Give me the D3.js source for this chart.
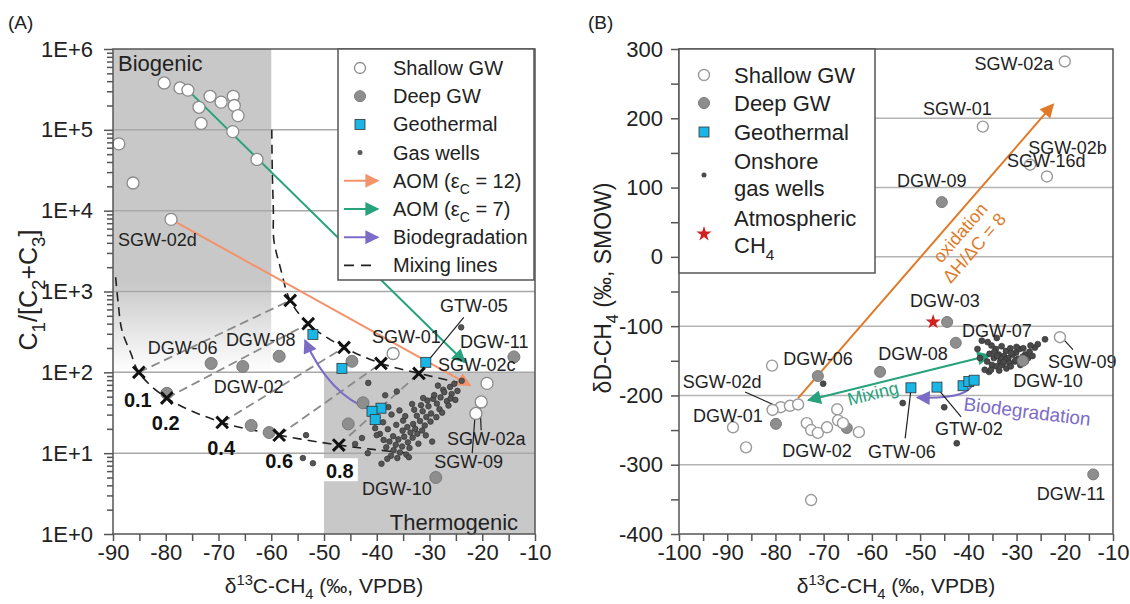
<!DOCTYPE html>
<html>
<head>
<meta charset="utf-8">
<script src="https://d3js.org/d3.v7.min.js"></script>
<style>
  body { margin: 0; background: #fff; }
  svg { font-family: "Liberation Sans", Arial, sans-serif; }
  .tick line { stroke: #555; stroke-width: 1.5px; }
  .domain { display: none; }
  .lbl { font-size: 18px; fill: #222; }
</style>
</head>
<body>
<svg id="fig" width="1130" height="604"></svg>
<script>
// ---------- panel A data : [d13C, C1/(C2+C3)] ----------
var shallowA = [[-80.3,3.8e5],[-77.3,3.3e5],[-75.8,3.1e5],[-71.6,2.6e5],[-69.5,2.2e5],[-67.2,2.6e5],[-67.0,2.0e5],
  [-66.3,1.5e5],[-73.7,1.9e5],[-73.3,1.2e5],[-67.3,9.5e4],[-62.7,4.3e4],[-88.9,6.7e4],[-86.2,2.2e4],[-79.0,7.8e3],
  [-36.9,171],[-19.1,73],[-20.2,43],[-21.2,31]];
var deepA = [[-71.4,129],[-65.4,118],[-58.5,158],[-79.8,55],[-63.8,22],[-60.4,18],[-44.7,137],[-45.4,23],
  [-42.6,42],[-14.0,155],[-28.8,5.0]];
var geoA = [[-52.1,295],[-46.6,112],[-30.7,133],[-39.2,36],[-40.9,33],[-40.3,26]];
var gasA = [[-24.0,360],[-25.3,72],[-26.1,66],[-27.4,61],[-25.8,54],[-27.9,49],[-26.7,44],[-28.6,41],[-29.3,47],
  [-30.2,38],[-28.1,35],[-29.7,31],[-31.3,33],[-30.6,28],[-32.4,29],[-31.8,25],[-33.1,23],[-30.9,22],[-32.7,20],
  [-34.2,21],[-33.6,18],[-35.1,19],[-34.8,16],[-33.2,15.5],[-35.9,14.8],[-34.1,13.6],[-36.4,12.7],[-35.2,12.1],
  [-33.8,11.6],[-36.8,10.9],[-35.6,10.2],[-34.4,9.6],[-37.3,9.3],[-36.1,8.7],[-33.9,8.9],[-38.2,11.8],[-37.6,13.9],
  [-36.9,16.2],[-38.7,14.6],[-39.4,17.3],[-37.9,19.8],[-36.3,22.4],[-35.0,25.3],[-38.8,24.1],[-40.3,20.4],
  [-39.9,27.6],[-37.2,30.1],[-34.6,28.7],[-32.9,34.5],[-31.6,39.2],[-30.4,44.8],[-29.1,52.3],[-27.2,56.8],
  [-26.0,47.5],[-24.7,58.9],[-23.9,78.6],[-28.4,68.5],[-31.2,48.1],[-33.3,40.6],[-35.7,33.8],[-37.8,37.2],
  [-41.6,74],[-38.4,52],[-36.2,58],[-32.3,17.4],[-31.4,19.1],[-29.8,24.6],[-28.7,27.9],[-27.6,31.7],[-26.4,38.8],
  [-25.1,45.6],[-30.7,16.6],[-32.1,13.1],[-29.5,13.9],[-53.4,16.7],[-54.0,8.7],[-52.1,7.5],[-44.1,13],[-41.7,10],
  [-40.0,16.7],[-38.0,8.5],[-42.8,15.4],[-39.1,7.4]];
var lowerX = [[-85.1,100],[-79.8,48],[-69.3,24],[-58.5,16.7],[-47.2,12.6]];
var upperX = [[-56.4,775],[-53.0,400],[-46.2,203],[-39.2,129],[-32.0,97]];
var fractions = ["0.1","0.2","0.4","0.6","0.8"];
var upperCurve = [[-59.9,1e5],[-59.8,3e4],[-59.6,1e4],[-59.5,4300],[-58.3,2000],[-56.4,775],[-53.0,400],
  [-46.2,203],[-39.2,129],[-32.0,97],[-24.5,75]];
var lowerCurve = [[-89.5,1500],[-89.0,700],[-88.3,330],[-86.6,171],[-85.1,100],[-79.8,48],[-69.3,24],
  [-58.5,16.7],[-47.2,12.6],[-40.0,11],[-34.0,10]];
var aom12A = [[-79.0,7.8e3],[-22.3,69]];
var aom7A = [[-75.8,3.1e5],[-23.3,133]];
var bioA = [[-41.0,34],[-49.0,52],[-53.6,250]];   // start, bend, tip

// ---------- panel B data : [d13C, dD] ----------
var shallowB = [[-20.0,282],[-37.0,188],[-27.2,133],[-23.7,116],[-21.0,-116],[-80.7,-157],[-78.9,-217],
  [-80.6,-221],[-77.0,-215],[-75.3,-213],[-88.8,-246],[-86.1,-275],[-73.5,-240],[-72.6,-250],[-71.2,-254],
  [-69.3,-246],[-67.2,-220],[-67.0,-236],[-66.0,-240],[-62.7,-253],[-72.6,-351]];
var deepB = [[-45.5,79],[-44.4,-94],[-42.6,-124],[-58.3,-166],[-28.7,-150],[-71.2,-172],[-79.9,-241],
  [-65.2,-247],[-14.1,-314]];
var geoB = [[-51.9,-189],[-46.5,-188],[-41.1,-186],[-39.9,-180],[-38.8,-178]];
var atmB = [[-47.3,-94]];
var gasB = [[-34.1,-117],[-24.1,-119],[-53.6,-211],[-45.0,-217],[-42.4,-269],[-70.1,-183],[-35.7,-166],
  [-35.2,-128],[-34.3,-133],[-33.1,-129],[-32.2,-136],[-31.3,-132],[-30.1,-138],[-29.4,-133],[-28.2,-141],
  [-27.3,-137],[-26.2,-131],[-25.6,-126],[-33.7,-141],[-32.6,-143],[-31.7,-146],[-30.8,-141],[-29.6,-147],
  [-28.7,-144],[-34.7,-146],[-33.4,-151],[-32.4,-148],[-31.5,-153],[-30.3,-151],[-29.2,-156],[-35.1,-156],
  [-34.2,-158],[-33.0,-156],[-32.1,-161],[-31.2,-158],[-36.1,-151],[-35.6,-140],[-34.6,-137],[-33.2,-146],
  [-31.1,-139],[-30.2,-149],[-28.1,-151],[-27.6,-146],[-26.7,-143],[-36.6,-163],[-35.3,-163],[-33.6,-164],
  [-32.7,-152],[-34.0,-143],[-30.0,-130],[-28.6,-132],[-27.1,-128],[-37.2,-121],[-36.0,-123],[-38.1,-133],
  [-37.6,-146]];
var oxB = [[-75.3,-204],[-22.4,220]];
var mixB = [[-73.2,-207],[-35.5,-142]];
var bioB = [[-39.0,-182],[-40.0,-206],[-50.6,-203]];

// labels [text, x, y, anchor]
var labelsA = [["SGW-02d",-89.05,3700,"start"],["DGW-06",-83.4,167,"start"],["DGW-08",-68.6,209,"start"],
  ["DGW-02",-70.9,56,"start"],["SGW-01",-40.9,229,"start"],["GTW-05",-28.0,550,"start"],["DGW-11",-24.2,199,"start"],
  ["SGW-02c",-28.4,103,"start"],["SGW-02a",-26.7,12.6,"start"],["SGW-09",-29.1,6.5,"start"],["DGW-10",-42.8,3.0,"start"]];
var leadersA = [[[-23.5,478],[-29.9,149]],[[-20.2,19.2],[-20.4,36]],[[-21.9,10],[-21.4,27]]];
var fracPos = [[-85.3,37],[-80.0,19.2],[-69.5,9.4],[-58.5,6.5],[-47.0,4.9]];
var labelsB = [["SGW-02a",-22.4,270,"end"],["SGW-01",-49.4,205,"start"],["SGW-02b",-27.6,149,"start"],
  ["SGW-16d",-32.0,129,"start"],["DGW-09",-54.8,101,"start"],["DGW-03",-52.1,-72,"start"],["DGW-07",-41.3,-116,"start"],
  ["DGW-08",-58.7,-149,"start"],["SGW-09",-23.5,-160,"start"],["DGW-10",-30.7,-188,"start"],["GTW-02",-46.9,-257,"start"],
  ["GTW-06",-60.8,-290,"start"],["DGW-11",-25.8,-351,"start"],["DGW-06",-78.4,-156,"start"],["SGW-02d",-99.2,-189,"start"],
  ["DGW-01",-97.1,-238,"start"],["DGW-02",-78.6,-289,"start"]];
var leadersB = [[[-18.3,-134],[-20.4,-118]],[[-41.5,-231],[-46.5,-189]],[[-53.1,-262],[-51.9,-192]],[[-86.3,-195],[-79.9,-215]]];

var orangeA = "#f4926a", green = "#26a27c", purple = "#7c6cc6", orangeB = "#e07a28";
var svg = d3.select("#fig");
var defs = svg.append("defs");

function marker(id, color, w, h) {
  defs.append("marker").attr("id", id).attr("viewBox", "0 0 10 10")
    .attr("refX", 9).attr("refY", 5).attr("markerUnits", "userSpaceOnUse")
    .attr("markerWidth", w).attr("markerHeight", h).attr("orient", "auto-start-reverse")
    .append("path").attr("d", "M0,0L10,5L0,10z").attr("fill", color);
}
marker("mOA", orangeA, 16, 14); marker("mG", green, 16, 14); marker("mP", purple, 16, 14); marker("mOB", orangeB, 16, 14);

var grad = defs.append("linearGradient").attr("id", "bio").attr("x1", 0).attr("y1", 0).attr("x2", 0).attr("y2", 1);
grad.append("stop").attr("offset", "0").attr("stop-color", "#c8c8c8");
grad.append("stop").attr("offset", "0.72").attr("stop-color", "#c8c8c8");
grad.append("stop").attr("offset", "1").attr("stop-color", "#ffffff");

function rich(t, parts, fs, scale) {
  var off = 0, k = scale || 0.7;
  parts.forEach(function(p) {
    var s = t.append("tspan").text(p[0]);
    var want = p[1] === "sub" ? fs * 0.3 : p[1] === "sup" ? -fs * 0.4 : 0;
    if (p[1]) s.attr("font-size", fs * k);
    s.attr("dy", want - off);
    off = want;
  });
}
function styleAxis(g) {
  g.attr("font-family", null).attr("font-size", null);
  g.selectAll(".tick text").style("font-size", "22px").attr("fill", "#222");
}

var xA = d3.scaleLinear().domain([-90, -10]).range([113, 535]);
var yA = d3.scaleLog().domain([1, 1e6]).range([534, 49]);
var xB = d3.scaleLinear().domain([-100, -10]).range([679, 1113]);
var yB = d3.scaleLinear().domain([-400, 300]).range([534, 49]);

// ================= PANEL A =================
var gA = svg.append("g");
gA.append("rect").attr("x", xA(-90)).attr("y", yA(1e6)).attr("width", xA(-60) - xA(-90))
  .attr("height", yA(100) - yA(1e6)).attr("fill", "url(#bio)");
gA.append("rect").attr("x", xA(-50)).attr("y", yA(100)).attr("width", xA(-10) - xA(-50))
  .attr("height", yA(1) - yA(100)).attr("fill", "#c8c8c8");
gA.selectAll(".grid").data([10, 100, 1000, 1e4, 1e5]).enter().append("line")
  .attr("x1", xA(-90)).attr("x2", xA(-10)).attr("y1", d => yA(d)).attr("y2", d => yA(d))
  .attr("stroke", "#a8a8a8").attr("stroke-width", 1.5);

// mixing lines
gA.selectAll(".mixl").data(lowerX).enter().append("line")
  .attr("x1", d => xA(d[0])).attr("y1", d => yA(d[1]))
  .attr("x2", (d, i) => xA(upperX[i][0])).attr("y2", (d, i) => yA(upperX[i][1]))
  .attr("stroke", "#8a8a8a").attr("stroke-width", 1.8).attr("stroke-dasharray", "9,5");
var lineA = d3.line().x(d => xA(d[0])).y(d => yA(d[1])).curve(d3.curveCatmullRom);
[upperCurve, lowerCurve].forEach(function(c) {
  gA.append("path").attr("d", lineA(c)).attr("fill", "none").attr("stroke", "#222")
    .attr("stroke-width", 1.6).attr("stroke-dasharray", "9,6");
});

// arrows
gA.append("line").attr("x1", xA(aom12A[0][0])).attr("y1", yA(aom12A[0][1])).attr("x2", xA(aom12A[1][0])).attr("y2", yA(aom12A[1][1]))
  .attr("stroke", orangeA).attr("stroke-width", 2).attr("marker-end", "url(#mOA)");
gA.append("line").attr("x1", xA(aom7A[0][0])).attr("y1", yA(aom7A[0][1])).attr("x2", xA(aom7A[1][0])).attr("y2", yA(aom7A[1][1]))
  .attr("stroke", green).attr("stroke-width", 2).attr("marker-end", "url(#mG)");
var pA = d3.path();
pA.moveTo(xA(bioA[0][0]), yA(bioA[0][1]));
pA.quadraticCurveTo(xA(bioA[1][0]), yA(bioA[1][1]), xA(bioA[2][0]), yA(bioA[2][1]));
gA.append("path").attr("d", pA.toString()).attr("fill", "none").attr("stroke", purple)
  .attr("stroke-width", 2.2).attr("marker-end", "url(#mP)");

// leaders
gA.selectAll(".ldA").data(leadersA).enter().append("line")
  .attr("x1", d => xA(d[0][0])).attr("y1", d => yA(d[0][1])).attr("x2", d => xA(d[1][0])).attr("y2", d => yA(d[1][1]))
  .attr("stroke", "#222").attr("stroke-width", 1.2);

// points
gA.selectAll(".gasA").data(gasA).enter().append("circle")
  .attr("cx", d => xA(d[0])).attr("cy", d => yA(d[1])).attr("r", 2.8)
  .attr("fill", "#555").attr("stroke", "#333").attr("stroke-width", 0.7);
gA.selectAll(".deepA").data(deepA).enter().append("circle")
  .attr("cx", d => xA(d[0])).attr("cy", d => yA(d[1])).attr("r", 6)
  .attr("fill", "#8e8e8e").attr("stroke", "#7a7a7a").attr("stroke-width", 1);
gA.selectAll(".shA").data(shallowA).enter().append("circle")
  .attr("cx", d => xA(d[0])).attr("cy", d => yA(d[1])).attr("r", 6)
  .attr("fill", "#fff").attr("stroke", "#8a8a8a").attr("stroke-width", 1.3);
gA.selectAll(".geoA").data(geoA).enter().append("rect")
  .attr("x", d => xA(d[0]) - 5).attr("y", d => yA(d[1]) - 5).attr("width", 10).attr("height", 10)
  .attr("fill", "#1ab6e6").attr("stroke", "#333").attr("stroke-width", 0.8);
var times = d3.symbol().type(d3.symbolTimes).size(90);
gA.selectAll(".xm").data(lowerX.concat(upperX)).enter().append("path")
  .attr("d", times).attr("transform", d => "translate(" + xA(d[0]) + "," + yA(d[1]) + ")")
  .attr("stroke", "#111").attr("stroke-width", 3).attr("fill", "none");

// fraction labels
fracPos.forEach(function(p, i) {
  if (i === 4) {
    gA.append("rect").attr("x", xA(p[0]) - 18).attr("y", yA(p[1]) - 20).attr("width", 36).attr("height", 23).attr("fill", "#fff");
  }
  gA.append("text").attr("x", xA(p[0])).attr("y", yA(p[1])).attr("text-anchor", "middle")
    .attr("font-size", 20).attr("font-weight", "bold").attr("fill", "#111").text(fractions[i]);
});

gA.selectAll(".lblA").data(labelsA).enter().append("text").attr("class", "lbl")
  .attr("x", d => xA(d[1])).attr("y", d => yA(d[2])).attr("text-anchor", d => d[3]).text(d => d[0]);
gA.append("text").attr("x", xA(-89.05)).attr("y", yA(5.4e5)).attr("font-size", 22).attr("fill", "#222").text("Biogenic");
gA.append("text").attr("x", xA(-13.2)).attr("y", yA(1.12)).attr("text-anchor", "end").attr("font-size", 22).attr("fill", "#222").text("Thermogenic");

// frame + axes
gA.append("rect").attr("x", 113).attr("y", 49).attr("width", 422).attr("height", 485)
  .attr("fill", "none").attr("stroke", "#555").attr("stroke-width", 1.5);
gA.append("g").attr("transform", "translate(0,534)")
  .call(d3.axisBottom(xA).tickValues(d3.range(-90, -9, 5)).tickSize(7).tickPadding(3)
    .tickFormat(d => d % 10 === 0 ? d : "")).call(styleAxis);
var yTicksA = [];
for (var e = 0; e < 6; e++) for (var m = 1; m < 10; m++) yTicksA.push(m * Math.pow(10, e));
yTicksA.push(1e6);
var axYA = gA.append("g").attr("transform", "translate(113,0)")
  .call(d3.axisLeft(yA).tickValues(yTicksA).tickSize(9).tickPadding(11)
    .tickFormat(d => { var l = Math.log10(d); return Math.abs(l - Math.round(l)) < 1e-9 ? "1E+" + Math.round(l) : ""; }))
  .call(styleAxis);
axYA.selectAll(".tick line").filter(d => Math.abs(Math.log10(d) - Math.round(Math.log10(d))) > 1e-9).attr("x2", -6);

rich(gA.append("text").attr("x", 324).attr("y", 593).attr("text-anchor", "middle").attr("font-size", 21).attr("fill", "#222"),
  [["δ"], ["13", "sup"], ["C-CH"], ["4", "sub"], ["  (‰, VPDB)"]], 21);
rich(gA.append("text").attr("transform", "translate(37,290) rotate(-90)").attr("text-anchor", "middle").attr("font-size", 25).attr("fill", "#222"),
  [["C"], ["1", "sub"], ["/[C"], ["2", "sub"], ["+C"], ["3", "sub"], ["]"]], 25, 0.75);
svg.append("text").attr("x", 8).attr("y", 29).attr("font-size", 19).attr("fill", "#222").text("(A)");

// legend A
var lgA = gA.append("g");
lgA.append("rect").attr("x", 338).attr("y", 49).attr("width", 196).attr("height", 231)
  .attr("fill", "#fff").attr("stroke", "#555").attr("stroke-width", 1.5);
var legItemsA = ["shallow", "deep", "geo", "gas", "aom12", "aom7", "bio", "mix"];
legItemsA.forEach(function(k, i) {
  var y = 68 + i * 28.2, sx = 360;
  if (k === "shallow") lgA.append("circle").attr("cx", sx).attr("cy", y).attr("r", 5.5).attr("fill", "#fff").attr("stroke", "#8a8a8a").attr("stroke-width", 1.3);
  if (k === "deep") lgA.append("circle").attr("cx", sx).attr("cy", y).attr("r", 5.5).attr("fill", "#8e8e8e").attr("stroke", "#7a7a7a");
  if (k === "geo") lgA.append("rect").attr("x", sx - 5).attr("y", y - 5).attr("width", 10).attr("height", 10).attr("fill", "#1ab6e6").attr("stroke", "#333").attr("stroke-width", 0.8);
  if (k === "gas") lgA.append("circle").attr("cx", sx).attr("cy", y).attr("r", 2.5).attr("fill", "#5a5a5a");
  var arr = { aom12: ["mOA", orangeA], aom7: ["mG", green], bio: ["mP", purple] }[k];
  if (arr) lgA.append("line").attr("x1", 344).attr("x2", 378).attr("y1", y).attr("y2", y)
    .attr("stroke", arr[1]).attr("stroke-width", 2).attr("marker-end", "url(#" + arr[0] + ")");
  if (k === "mix") lgA.append("line").attr("x1", 344).attr("x2", 378).attr("y1", y).attr("y2", y)
    .attr("stroke", "#222").attr("stroke-width", 1.6).attr("stroke-dasharray", "10,7");
  var t = lgA.append("text").attr("x", 393).attr("y", y + 7).attr("font-size", 20).attr("fill", "#222");
  var txt = { shallow: [["Shallow GW"]], deep: [["Deep GW"]], geo: [["Geothermal"]], gas: [["Gas wells"]],
    aom12: [["AOM (ε"], ["C", "sub"], [" = 12)"]], aom7: [["AOM (ε"], ["C", "sub"], [" = 7)"]],
    bio: [["Biodegradation"]], mix: [["Mixing lines"]] }[k];
  rich(t, txt, 20);
});

// ================= PANEL B =================
var gB = svg.append("g");
gB.selectAll(".gridB").data([-300, -200, -100, 0, 100, 200]).enter().append("line")
  .attr("x1", xB(-100)).attr("x2", xB(-10)).attr("y1", d => yB(d)).attr("y2", d => yB(d))
  .attr("stroke", "#b4b4b4").attr("stroke-width", 1.5);

gB.append("line").attr("x1", xB(oxB[0][0])).attr("y1", yB(oxB[0][1])).attr("x2", xB(oxB[1][0])).attr("y2", yB(oxB[1][1]))
  .attr("stroke", orangeB).attr("stroke-width", 2).attr("marker-end", "url(#mOB)");
gB.append("line").attr("x1", xB(mixB[0][0])).attr("y1", yB(mixB[0][1])).attr("x2", xB(mixB[1][0])).attr("y2", yB(mixB[1][1]))
  .attr("stroke", green).attr("stroke-width", 2).attr("marker-start", "url(#mG)").attr("marker-end", "url(#mG)");
var pB = d3.path();
pB.moveTo(xB(bioB[0][0]), yB(bioB[0][1]));
pB.quadraticCurveTo(xB(bioB[1][0]), yB(bioB[1][1]), xB(bioB[2][0]), yB(bioB[2][1]));
gB.append("path").attr("d", pB.toString()).attr("fill", "none").attr("stroke", purple)
  .attr("stroke-width", 2.2).attr("marker-end", "url(#mP)");

gB.selectAll(".ldB").data(leadersB).enter().append("line")
  .attr("x1", d => xB(d[0][0])).attr("y1", d => yB(d[0][1])).attr("x2", d => xB(d[1][0])).attr("y2", d => yB(d[1][1]))
  .attr("stroke", "#222").attr("stroke-width", 1.2);

gB.selectAll(".gasB").data(gasB).enter().append("circle")
  .attr("cx", d => xB(d[0])).attr("cy", d => yB(d[1])).attr("r", 3)
  .attr("fill", "#4a4a4a").attr("stroke", "#2f2f2f").attr("stroke-width", 0.6);
gB.selectAll(".deepB").data(deepB).enter().append("circle")
  .attr("cx", d => xB(d[0])).attr("cy", d => yB(d[1])).attr("r", 5.5)
  .attr("fill", "#8e8e8e").attr("stroke", "#7a7a7a");
gB.selectAll(".shB").data(shallowB).enter().append("circle")
  .attr("cx", d => xB(d[0])).attr("cy", d => yB(d[1])).attr("r", 5.5)
  .attr("fill", "#fff").attr("stroke", "#9a9a9a").attr("stroke-width", 1.4);
gB.selectAll(".geoB").data(geoB).enter().append("rect")
  .attr("x", d => xB(d[0]) - 5).attr("y", d => yB(d[1]) - 5).attr("width", 10).attr("height", 10)
  .attr("fill", "#1ab6e6").attr("stroke", "#333").attr("stroke-width", 0.8);
var star = d3.symbol().type(d3.symbolStar).size(70);
gB.selectAll(".atm").data(atmB).enter().append("path").attr("d", star)
  .attr("transform", d => "translate(" + xB(d[0]) + "," + yB(d[1]) + ")").attr("fill", "#d02020");

gB.selectAll(".lblB").data(labelsB).enter().append("text").attr("class", "lbl")
  .attr("x", d => xB(d[1])).attr("y", d => yB(d[2])).attr("text-anchor", d => d[3]).text(d => d[0]);

// arrow annotations
var oxAng = Math.atan2(yB(oxB[1][1]) - yB(oxB[0][1]), xB(oxB[1][0]) - xB(oxB[0][0])) * 180 / Math.PI;
gB.append("text").attr("transform", "translate(" + xB(-41.7) + "," + yB(35) + ") rotate(" + oxAng + ")")
  .attr("text-anchor", "middle").attr("dy", "0.35em").attr("font-size", 18).attr("fill", orangeB).text("oxidation");
gB.append("text").attr("transform", "translate(" + xB(-38.8) + "," + yB(13) + ") rotate(" + oxAng + ")")
  .attr("text-anchor", "middle").attr("dy", "0.35em").attr("font-size", 18).attr("fill", orangeB).text("ΔH/ΔC = 8");
var mxAng = Math.atan2(yB(mixB[1][1]) - yB(mixB[0][1]), xB(mixB[1][0]) - xB(mixB[0][0])) * 180 / Math.PI;
gB.append("text").attr("transform", "translate(" + xB(-59.8) + "," + yB(-197) + ") rotate(" + mxAng + ")")
  .attr("text-anchor", "middle").attr("dy", "0.35em").attr("font-size", 18).attr("fill", green).text("Mixing");
gB.append("text").attr("transform", "translate(" + xB(-27.8) + "," + yB(-223) + ") rotate(7)")
  .attr("text-anchor", "middle").attr("dy", "0.35em").attr("font-size", 19).attr("fill", purple).text("Biodegradation");

gB.append("rect").attr("x", 679).attr("y", 49).attr("width", 434).attr("height", 485)
  .attr("fill", "none").attr("stroke", "#555").attr("stroke-width", 1.5);
gB.append("g").attr("transform", "translate(0,534)")
  .call(d3.axisBottom(xB).tickValues(d3.range(-100, -9, 5)).tickSize(7).tickPadding(3)
    .tickFormat(d => d % 10 === 0 ? d : "")).call(styleAxis);
gB.append("g").attr("transform", "translate(679,0)")
  .call(d3.axisLeft(yB).tickValues(d3.range(-400, 301, 50)).tickSize(8).tickPadding(8)
    .tickFormat(d => d % 100 === 0 ? d : "")).call(styleAxis);

rich(gB.append("text").attr("x", 896).attr("y", 593).attr("text-anchor", "middle").attr("font-size", 21).attr("fill", "#222"),
  [["δ"], ["13", "sup"], ["C-CH"], ["4", "sub"], ["  (‰, VPDB)"]], 21);
rich(gB.append("text").attr("transform", "translate(611,288) rotate(-90)").attr("text-anchor", "middle").attr("font-size", 23).attr("fill", "#222"),
  [["δD-CH"], ["4", "sub"], [" (‰, SMOW)"]], 23);
svg.append("text").attr("x", 588).attr("y", 29).attr("font-size", 19).attr("fill", "#222").text("(B)");

// legend B
var lgB = gB.append("g");
lgB.append("rect").attr("x", 679).attr("y", 49).attr("width", 196).attr("height", 224)
  .attr("fill", "#fff").attr("stroke", "#555").attr("stroke-width", 1.5);
var sxB = 704, txB = 734;
lgB.append("circle").attr("cx", sxB).attr("cy", 75).attr("r", 5.5).attr("fill", "#fff").attr("stroke", "#9a9a9a").attr("stroke-width", 1.4);
lgB.append("circle").attr("cx", sxB).attr("cy", 103).attr("r", 5.5).attr("fill", "#8e8e8e").attr("stroke", "#7a7a7a");
lgB.append("rect").attr("x", sxB - 5).attr("y", 127).attr("width", 10).attr("height", 10).attr("fill", "#1ab6e6").attr("stroke", "#333").attr("stroke-width", 0.8);
lgB.append("circle").attr("cx", sxB).attr("cy", 175).attr("r", 2.5).attr("fill", "#4a4a4a");
lgB.append("path").attr("d", star).attr("transform", "translate(" + sxB + ",234)").attr("fill", "#d02020");
[["Shallow GW", 75], ["Deep GW", 103], ["Geothermal", 132], ["Onshore", 161], ["gas wells", 188], ["Atmospheric", 218]].forEach(function(r) {
  lgB.append("text").attr("x", txB).attr("y", r[1] + 8).attr("font-size", 22).attr("fill", "#222").text(r[0]);
});
rich(lgB.append("text").attr("x", txB).attr("y", 253).attr("font-size", 22).attr("fill", "#222"), [["CH"], ["4", "sub"]], 22);
</script>
</body>
</html>
